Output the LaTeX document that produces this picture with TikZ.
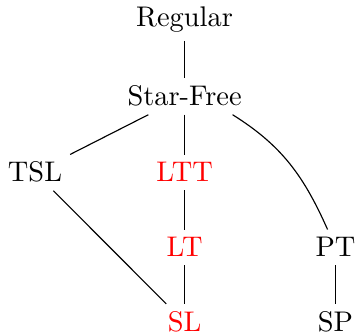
\documentclass[tikz,border=0pt]{standalone}
\begin{document}
\begin{tikzpicture}[x=0.3521pt,y=-0.3521pt,
  lab/.style={inner sep=2.65pt, anchor=base},
  hl/.style={lab, text=red},
  edge/.style={line width=0.4pt}]
\useasboundingbox (0,0) rectangle (356,333);
\node[lab] (reg) at (184.6,27) {Regular};
\node[lab] (sf)  at (184.6,106) {Star-Free};
\node[lab] (tsl) at (35,182) {TSL};
\node[hl]  (ltt) at (184.6,182) {LTT};
\node[hl]  (lt)  at (184.6,257) {LT};
\node[lab] (pt)  at (335.5,257) {PT};
\node[hl]  (sl)  at (184.6,332) {SL};
\node[lab] (sp)  at (335.5,332) {SP};
\draw[edge] (reg) -- (sf);
\draw[edge] (sf) -- (tsl);
\draw[edge] (sf) -- (ltt);
\draw[edge] (ltt) -- (lt);
\draw[edge] (lt) -- (sl);
\draw[edge] (tsl) -- (sl);
\draw[edge] (pt) -- (sp);
\draw[edge] (sf.-21) to[out=-32,in=114] (pt);
\end{tikzpicture}
\end{document}
